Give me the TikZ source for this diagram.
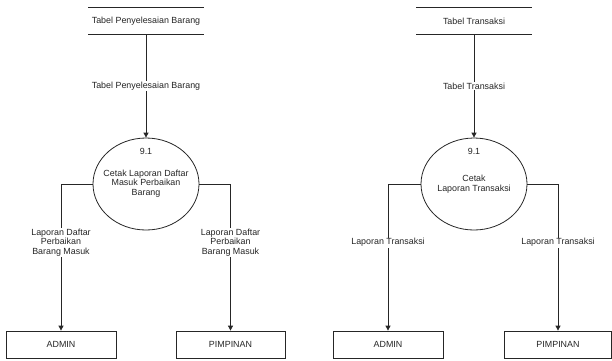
\documentclass[tikz,border=0pt]{standalone}
\usepackage{fontspec}
\setmainfont{Liberation Sans}
\usetikzlibrary{arrows.meta,shapes.geometric}
\begin{document}
\begin{tikzpicture}[x=1pt,y=-1pt,
  font=\fontsize{8.9}{9.7}\selectfont,
  every node/.style={text=black!85},
  flow/.style={draw=black!85, line width=0.8pt, -{Triangle[length=5pt,width=5pt]}},
  proc/.style={draw=black!85, line width=0.8pt, ellipse, minimum width=106pt, minimum height=92pt, inner sep=0pt},
  entity/.style={draw=black!85, line width=0.8pt, minimum height=27pt, inner sep=0pt},
  store/.style={minimum width=115pt, minimum height=26.5pt, inner sep=0pt},
  storeline/.style={draw=black!85, line width=0.8pt},
  lbl/.style={fill=white, align=center, inner sep=1pt}]
\useasboundingbox (0,0) rectangle (612,360);

% ---- Process 9.1: Cetak Laporan Daftar Masuk Perbaikan Barang ----
\node[store] (ds1) at (146,21) {Tabel Penyelesaian Barang};
\draw[storeline] (ds1.north west) -- (ds1.north east);
\draw[storeline] (ds1.south west) -- (ds1.south east);

\node[proc] (p1) at (146,184) {};
\node (p1id) at (146,151) {9.1};
\node[align=center] (p1txt) at (146,183.5) {Cetak Laporan Daftar\\Masuk Perbaikan\\Barang};

\node[entity, minimum width=110pt] (admin1) at (61,344.5) {ADMIN};
\node[entity, minimum width=109pt] (pimp1) at (230.5,344.5) {PIMPINAN};

\draw[flow] (ds1.south) -- node[lbl] {Tabel Penyelesaian Barang} (p1.north);
\draw[flow] (p1.west) -| node[lbl, pos=0.7] {Laporan Daftar\\Perbaikan\\Barang Masuk} (admin1.north);
\draw[flow] (p1.east) -| node[lbl, pos=0.7] {Laporan Daftar\\Perbaikan\\Barang Masuk} (pimp1.north);

% ---- Process 9.1: Cetak Laporan Transaksi ----
\node[store] (ds2) at (474,21) {Tabel Transaksi};
\draw[storeline] (ds2.north west) -- (ds2.north east);
\draw[storeline] (ds2.south west) -- (ds2.south east);

\node[proc] (p2) at (474,184) {};
\node (p2id) at (474,151) {9.1};
\node[align=center] (p2txt) at (474,184.5) {Cetak\\Laporan Transaksi};

\node[entity, minimum width=110pt] (admin2) at (388,344.5) {ADMIN};
\node[entity, minimum width=107pt] (pimp2) at (558,344.5) {PIMPINAN};

\draw[flow] (ds2.south) -- node[lbl] {Tabel Transaksi} (p2.north);
\draw[flow] (p2.west) -| node[lbl, pos=0.7] {Laporan Transaksi} (admin2.north);
\draw[flow] (p2.east) -| node[lbl, pos=0.7] {Laporan Transaksi} (pimp2.north);
\end{tikzpicture}
\end{document}
